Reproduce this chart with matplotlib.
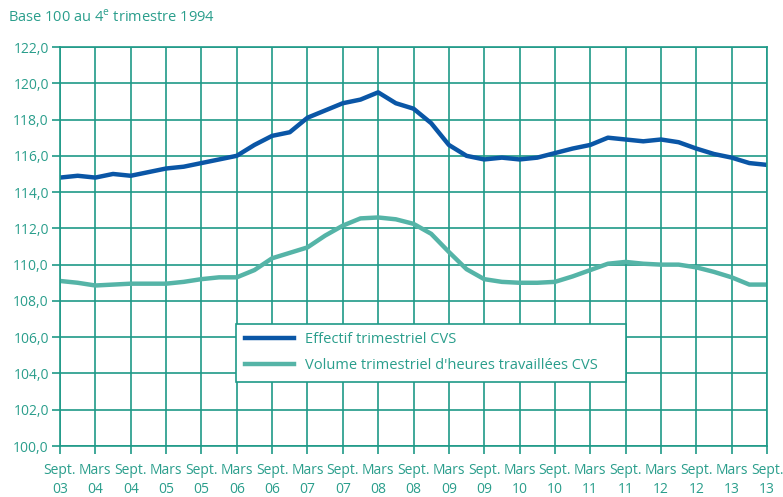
"""
Effectif et volume d'heures travaillées trimestriels CVS, base 100 au 4e trimestre 1994.
"""

import matplotlib.pyplot as plt
import numpy as np

# Quarterly values, Sept. 2003 to Sept. 2013 (41 quarters)
effectif = [
    114.8, 114.9, 114.8, 115.0, 114.9, 115.1, 115.3, 115.4, 115.6, 115.8,
    116.0, 116.6, 117.1, 117.3, 118.1, 118.5, 118.9, 119.1, 119.5, 118.9,
    118.6, 117.8, 116.6, 116.0, 115.8, 115.9, 115.8, 115.9, 116.15, 116.4,
    116.6, 117.0, 116.9, 116.8, 116.9, 116.75, 116.4, 116.1, 115.9, 115.6,
    115.5,
]
volume_heures = [
    109.1, 109.0, 108.85, 108.9, 108.95, 108.95, 108.95, 109.05, 109.2, 109.3,
    109.3, 109.7, 110.35, 110.65, 110.95, 111.6, 112.15, 112.55, 112.6, 112.5,
    112.25, 111.7, 110.7, 109.75, 109.2, 109.05, 109.0, 109.0, 109.05, 109.35,
    109.7, 110.05, 110.15, 110.05, 110.0, 110.0, 109.85, 109.6, 109.3, 108.9,
    108.9,
]

# Half-year tick labels
tick_labels = []
for year in range(3, 14):
    tick_labels.append(f"Sept.\n{year:02d}")
    if year < 13:
        tick_labels.append(f"Mars\n{year + 1:02d}")

series_labels = ["Effectif trimestriel CVS", "Volume trimestriel d'heures travaillées CVS"]

TEAL = "#1f9a88"
TEXT = "#2a9e8c"
BLUE = "#0a56a6"
LIGHT = "#55b4a7"

plt.rcParams["font.family"] = ["Open Sans", "DejaVu Sans"]
plt.rcParams["mathtext.fontset"] = "custom"
plt.rcParams["mathtext.rm"] = "Open Sans"

fig = plt.figure(figsize=(7.83, 4.97), dpi=100)
ax = fig.add_axes([60 / 783, 1 - 446 / 497, 707 / 783, 399 / 497])

x = np.arange(len(effectif))
ax.plot(x, effectif, color=BLUE, linewidth=3.2, label=series_labels[0], solid_joinstyle="round")
ax.plot(x, volume_heures, color=LIGHT, linewidth=3.2, label=series_labels[1], solid_joinstyle="round")

ax.set_xlim(0, len(effectif) - 1)
ax.set_ylim(100, 122)
ax.set_xticks(np.arange(0, len(effectif), 2))
ax.set_xticklabels(tick_labels, linespacing=1.35)
ax.set_yticks(np.arange(100, 123, 2))
ax.set_yticklabels([f"{v:.1f}".replace(".", ",") for v in np.arange(100, 123, 2)])

ax.grid(True, color=TEAL, linewidth=1.2)
ax.set_axisbelow(True)
for spine in ax.spines.values():
    spine.set_color(TEAL)
    spine.set_linewidth(1.2)
ax.tick_params(axis="both", colors=TEAL, labelcolor=TEXT, labelsize=10, width=1.2, length=6)
ax.tick_params(axis="x", pad=6)
ax.tick_params(axis="y", pad=2)

leg = ax.legend(
    loc="lower left", bbox_to_anchor=(0.249, 0.16, 0.551, 0.14), mode="expand",
    borderaxespad=0, fancybox=False, framealpha=1, edgecolor=TEAL, fontsize=10.5,
    handlelength=3.4, borderpad=0.6, labelspacing=0.75, handletextpad=0.7,
)
leg.get_frame().set_linewidth(1.2)
for t in leg.get_texts():
    t.set_color(TEXT)

fig.text(8 / 783, 1 - 17 / 497, r"Base 100 au 4$^{\mathrm{e}}$ trimestre 1994",
         color=TEXT, fontsize=10.5, va="center", ha="left")

fig.savefig("out.png", dpi=100)
